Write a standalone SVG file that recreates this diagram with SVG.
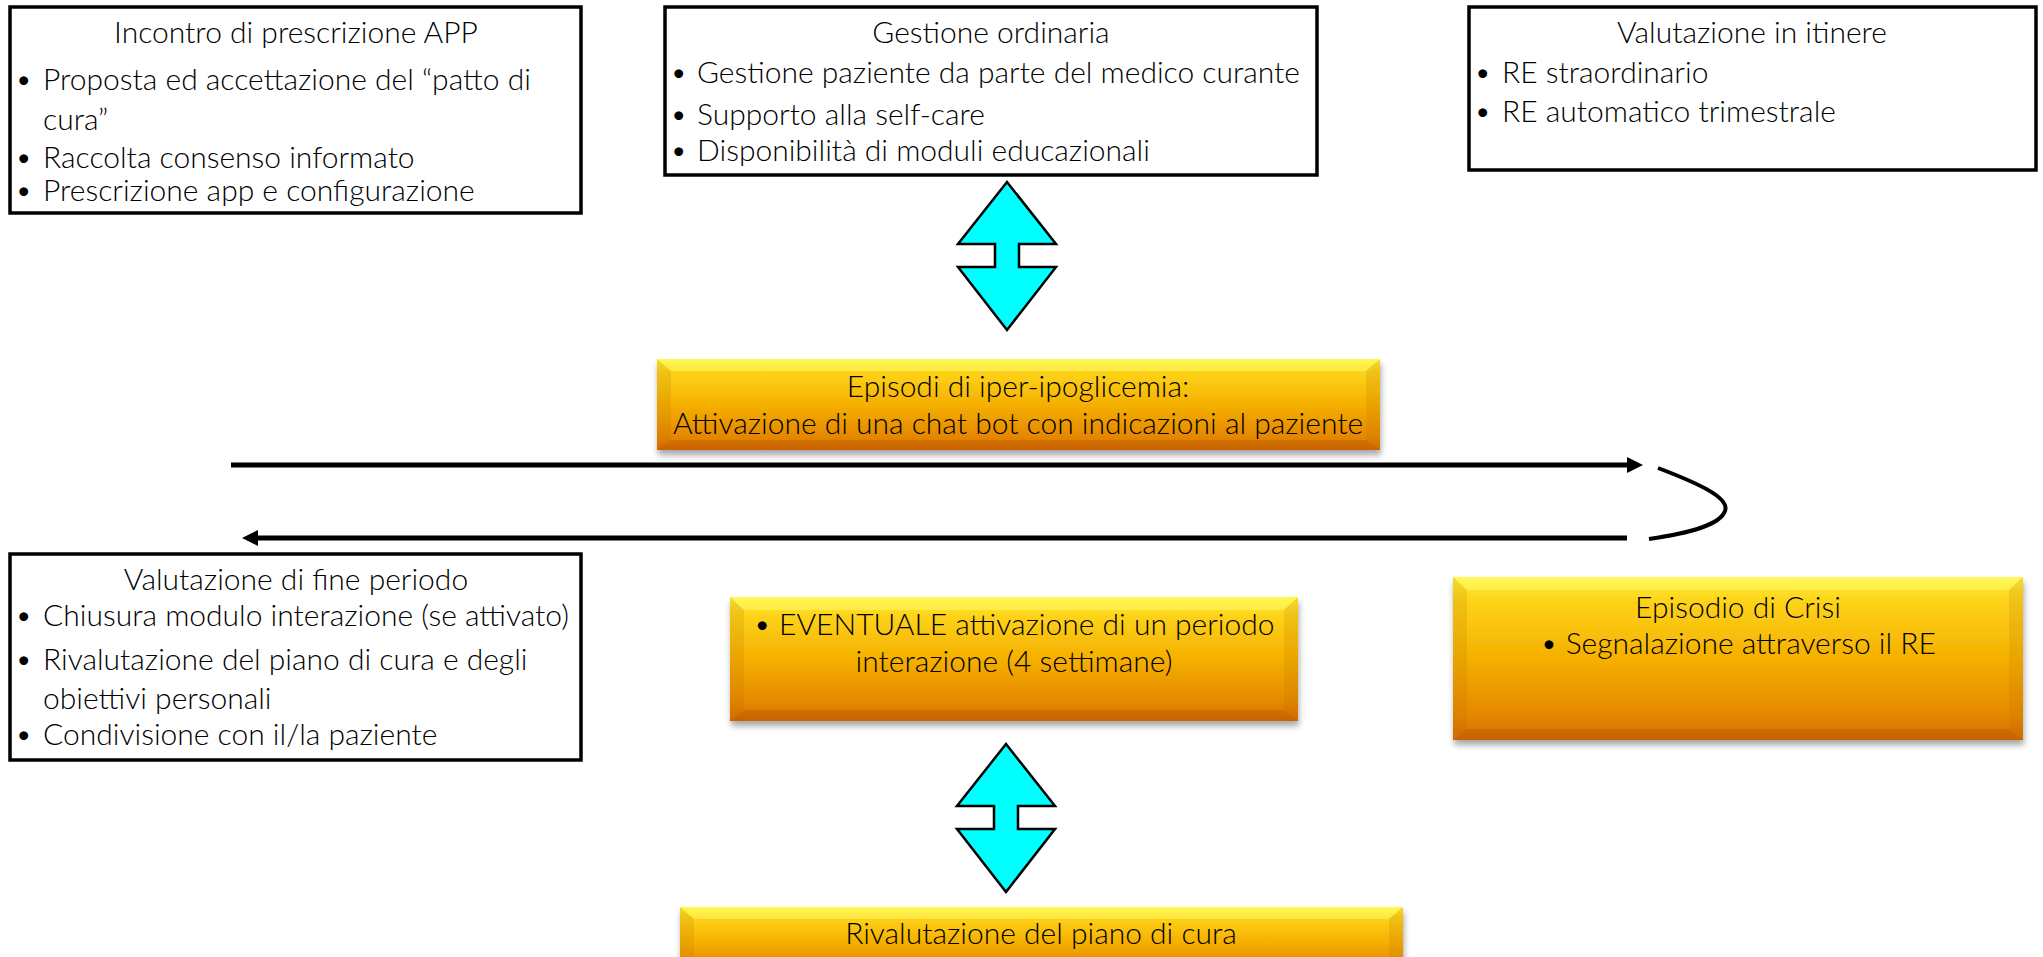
<svg xmlns="http://www.w3.org/2000/svg" width="2043" height="957" viewBox="0 0 2043 957">
<defs>
<style>
text{font-family:Lato,"Open Sans","Liberation Sans",sans-serif;font-size:30px;font-weight:300;fill:#000}
.c{text-anchor:middle}
.box{fill:#fff;stroke:#000;stroke-width:3.5}
.gold{fill:url(#gold);filter:url(#sh)}
.bt{fill:#FFFF70;opacity:0.45}
.bs{fill:#B06A00;opacity:0.16}
.bb{fill:#9A4000;opacity:0.22}
.dbl{fill:#00FFFF;stroke:#000;stroke-width:2.5;stroke-linejoin:miter}
.ln{fill:none;stroke:#000;stroke-width:5}
</style>
<linearGradient id="gold" x1="0" y1="0" x2="0" y2="1">
<stop offset="0" stop-color="#FFF23C"/>
<stop offset="0.15" stop-color="#FDD31A"/>
<stop offset="0.5" stop-color="#F5B000"/>
<stop offset="0.85" stop-color="#E58800"/>
<stop offset="1" stop-color="#D66C00"/>
</linearGradient>
<filter id="sh" x="-5%" y="-10%" width="110%" height="130%">
<feGaussianBlur in="SourceAlpha" stdDeviation="3"/>
<feOffset dx="1" dy="5" result="b"/>
<feComponentTransfer><feFuncA type="linear" slope="0.35"/></feComponentTransfer>
<feMerge><feMergeNode/><feMergeNode in="SourceGraphic"/></feMerge>
</filter>
<marker id="ah" viewBox="0 0 16 16" refX="1" refY="8" markerWidth="16" markerHeight="16" markerUnits="userSpaceOnUse" orient="auto">
<path d="M0,0 L16,8 L0,16 z" fill="#000"/>
</marker>
</defs>
<rect width="2043" height="957" fill="#fff"/>

<g id="connectors">
<path class="ln" d="M231,465 L1628,465" marker-end="url(#ah)"/>
<path class="ln" d="M1627,538 L257,538" marker-end="url(#ah)"/>
<path fill="none" stroke="#000" stroke-width="4" d="M1658,468 C1700,484 1730,498 1725,511 C1720,525 1690,533 1649,539"/>
<polygon id="dblarrow1" class="dbl" points="1007,182 1056,244 1019,244 1019,267 1056,267 1007,330 958,267 995,267 995,244 958,244"/>
<polygon id="dblarrow2" class="dbl" points="1006,744 1055,806 1018,806 1018,829 1055,829 1006,892 957,829 994,829 994,806 957,806"/>
</g>

<g id="incontro">
<rect class="box" x="10" y="7" width="571" height="206"/>
<text class="c" x="296" y="43">Incontro di prescrizione APP</text>
<text x="15" y="90">•</text><text x="43" y="90">Proposta ed accettazione del “patto di</text>
<text x="43" y="130">cura”</text>
<text x="15" y="168">•</text><text x="43" y="168">Raccolta consenso informato</text>
<text x="15" y="201">•</text><text x="43" y="201">Prescrizione app e configurazione</text>
</g>

<g id="gestione">
<rect class="box" x="665" y="7" width="652" height="168"/>
<text class="c" x="991" y="43">Gestione ordinaria</text>
<text x="670" y="83">•</text><text x="697" y="83">Gestione paziente da parte del medico curante</text>
<text x="670" y="125">•</text><text x="697" y="125">Supporto alla self-care</text>
<text x="670" y="161">•</text><text x="697" y="161">Disponibilità di moduli educazionali</text>
</g>

<g id="itinere">
<rect class="box" x="1469" y="7" width="567" height="163"/>
<text class="c" x="1752" y="43">Valutazione in itinere</text>
<text x="1474" y="83">•</text><text x="1502" y="83">RE straordinario</text>
<text x="1474" y="122">•</text><text x="1502" y="122">RE automatico trimestrale</text>
</g>

<g id="episodi">
<rect class="gold" x="657" y="359" width="723" height="91"/>
<polygon class="bt" points="657,359 1380,359 1366,371 671,371"/>
<polygon class="bs" points="657,359 671,371 671,440 657,450"/>
<polygon class="bs" points="1380,359 1366,371 1366,440 1380,450"/>
<polygon class="bb" points="657,450 671,440 1366,440 1380,450"/>
<text class="c" x="1018" y="397">Episodi di iper-ipoglicemia:</text>
<text class="c" x="1018" y="434">Attivazione di una chat bot con indicazioni al paziente</text>
</g>

<g id="fineperiodo">
<rect class="box" x="10" y="554" width="571" height="206"/>
<text class="c" x="296" y="590">Valutazione di fine periodo</text>
<text x="15" y="626">•</text><text x="43" y="626">Chiusura modulo interazione (se attivato)</text>
<text x="15" y="670">•</text><text x="43" y="670">Rivalutazione del piano di cura e degli</text>
<text x="43" y="709">obiettivi personali</text>
<text x="15" y="745">•</text><text x="43" y="745">Condivisione con il/la paziente</text>
</g>

<g id="eventuale">
<rect class="gold" x="730" y="597" width="568" height="124"/>
<polygon class="bt" points="730,597 1298,597 1284,610 744,610"/>
<polygon class="bs" points="730,597 744,610 744,710 730,721"/>
<polygon class="bs" points="1298,597 1284,610 1284,710 1298,721"/>
<polygon class="bb" points="730,721 744,710 1284,710 1298,721"/>
<text class="c" x="1014" y="635">• EVENTUALE attivazione di un periodo</text>
<text class="c" x="1014" y="672">interazione (4 settimane)</text>
</g>

<g id="crisi">
<rect class="gold" x="1453" y="577" width="570" height="163"/>
<polygon class="bt" points="1453,577 2023,577 2009,590 1467,590"/>
<polygon class="bs" points="1453,577 1467,590 1467,729 1453,740"/>
<polygon class="bs" points="2023,577 2009,590 2009,729 2023,740"/>
<polygon class="bb" points="1453,740 1467,729 2009,729 2023,740"/>
<text class="c" x="1738" y="618">Episodio di Crisi</text>
<text class="c" x="1738" y="654">• Segnalazione attraverso il RE</text>
</g>

<g id="rivalutazione">
<rect class="gold" x="680" y="907" width="723" height="70"/>
<polygon class="bt" points="680,907 1403,907 1389,919 694,919"/>
<polygon class="bs" points="680,907 694,919 694,957 680,957"/>
<polygon class="bs" points="1403,907 1389,919 1389,957 1403,957"/>
<text class="c" x="1041" y="944">Rivalutazione del piano di cura</text>
</g>
</svg>
